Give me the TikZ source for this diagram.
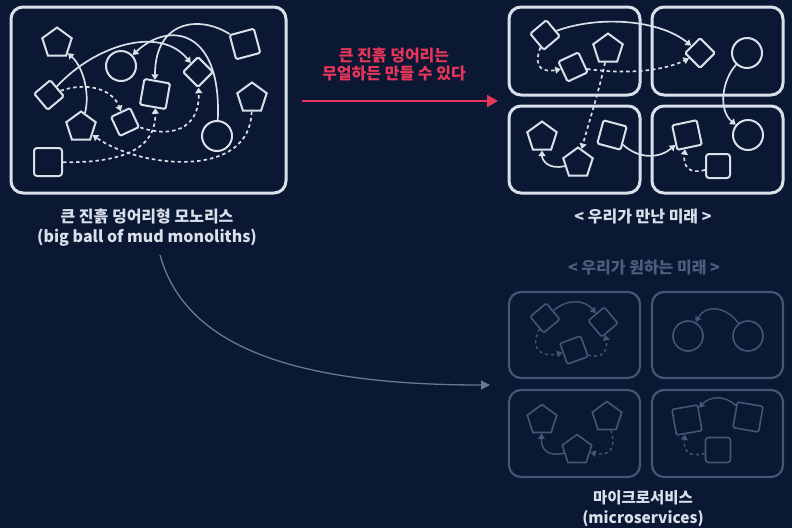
\documentclass[tikz,border=0pt]{standalone}
\usepackage{fontspec}
\setmainfont{Noto Sans CJK KR}
\usetikzlibrary{arrows.meta,shapes.geometric}
\definecolor{bg}{RGB}{11,24,52}
\definecolor{fg}{RGB}{218,224,233}
\definecolor{redc}{RGB}{232,54,90}
\definecolor{dimc}{RGB}{70,86,114}
\definecolor{dimtxt}{RGB}{78,94,122}
\definecolor{grayarr}{RGB}{105,120,148}
\begin{document}
\begin{tikzpicture}[x=1pt,y=-1pt,
  fgline/.style={draw=fg, line width=2pt},
  sq/.style={fgline, rectangle, rounded corners=1.5pt, minimum size=#1, inner sep=0pt},
  sq/.default=22pt,
  pent/.style={fgline, regular polygon, regular polygon sides=5, minimum size=31pt, inner sep=0pt},
  circ/.style={fgline, circle, minimum size=30pt, inner sep=0pt},
  dimmed/.style={draw=dimc, line width=1.6pt},
  bigbox/.style={draw=fg, line width=3pt, rounded corners=12pt},
  dimbox/.style={draw=dimc, line width=2.2pt, rounded corners=12pt},
  con/.style={draw=fg, line width=1.7pt, -{Triangle[length=5.5pt,width=7pt]}},
  dcon/.style={con, dash pattern=on 3.5pt off 3pt},
  dimcon/.style={draw=dimc, line width=1.4pt, -{Triangle[length=5.5pt,width=6.5pt]}},
  ddimcon/.style={dimcon, dash pattern=on 3pt off 3pt},
  lbl/.style={text=fg, font=\fontsize{15.5}{20}\selectfont\bfseries, align=center, inner sep=0pt}
]
\fill[bg] (0,0) rectangle (792,528);
\useasboundingbox (0,0) rectangle (792,528);

% ---------- left: big ball of mud ----------
\draw[bigbox] (11,7) rectangle (286,193);
\node[pent] (L1) at (57,43) {};
\node[circ] (L2) at (121,66) {};
\node[sq=21pt, rotate=40] (L3) at (49,95) {};
\node[sq=25pt, rotate=15] (L4) at (245,44) {};
\node[sq=21pt, rotate=45] (L5) at (198,72) {};
\node[sq=26pt, rotate=-10] (L6) at (155,94) {};
\node[pent] (L7) at (252,98) {};
\node[pent] (L8) at (81,127) {};
\node[sq=21pt, rotate=25] (L9) at (125,122) {};
\node[circ] (L10) at (217,136) {};
\node[sq=28pt, rounded corners=3pt] (L11) at (48,162) {};

\draw[con] (L8) .. controls (90,95) and (84,68) .. (L1);
\draw[con] (L3) .. controls (95,45) and (160,25) .. (L5);
\draw[con] (L4) .. controls (200,15) and (155,20) .. (L6);
\draw[con] (L10) .. controls (222,30) and (170,20) .. (L2);
\draw[dcon] (L3) .. controls (85,82) and (112,88) .. (L9);
\draw[dcon] (L11) .. controls (120,163) and (156,150) .. (L6);
\draw[dcon] (L9) .. controls (170,138) and (200,130) .. (L5);
\draw[dcon] (L7) .. controls (250,180) and (140,168) .. (L8);

\node[lbl, font=\fontsize{16}{20}\selectfont\bfseries] (lblL) at (147,228) {큰 진흙 덩어리형 모노리스\\(big ball of mud monoliths)};

% ---------- red arrow ----------
\node[lbl, text=redc, font=\fontsize{16}{18}\selectfont\bfseries] (redt) at (394,64) {큰 진흙 덩어리는\\무얼하든 만들 수 있다};
\coordinate (ra) at (302,101);
\coordinate (rb) at (498,101);
\draw[draw=redc, line width=2.2pt, -{Triangle[length=11pt,width=12pt]}] (ra) -- (rb);

% ---------- top right: the future we met ----------
\draw[bigbox] (509,7) rectangle (640,95);
\draw[bigbox] (652,7) rectangle (783,95);
\draw[bigbox] (509,106) rectangle (640,193);
\draw[bigbox] (652,106) rectangle (783,193);

\node[sq=21pt, rotate=40] (R1) at (545,35) {};
\node[sq=22pt, rotate=25] (R2) at (573,67) {};
\node[pent] (R3) at (608,49) {};
\node[sq=21pt, rotate=45] (R4) at (700,53) {};
\node[circ] (R5) at (747,53) {};
\node[pent] (R6) at (542,137) {};
\node[pent] (R7) at (578,163) {};
\node[sq=24pt, rotate=-15] (R8) at (612,135) {};
\node[sq=25pt, rotate=12] (R9) at (687,135) {};
\node[circ] (R10) at (748,135) {};
\node[sq=24pt, rounded corners=3pt] (R11) at (718,166) {};

\draw[con] (R1) .. controls (600,15) and (660,20) .. (R4);
\draw[dcon] (R1) .. controls (532,70) and (545,72) .. (R2);
\draw[dcon] (R2) .. controls (630,75) and (665,70) .. (R4);
\draw[dcon] (R3) .. controls (598,95) and (588,125) .. (R7);
\draw[con] (R7) .. controls (548,170) and (542,160) .. (R6);
\draw[con] (R8) .. controls (640,160) and (660,158) .. (R9);
\draw[con] (R5) .. controls (722,80) and (718,110) .. (R10);
\draw[dcon] (R11) .. controls (688,175) and (683,165) .. (R9);

\node[lbl, font=\fontsize{16}{20}\selectfont\bfseries] (lblR) at (643,217) {< 우리가 만난 미래 >};

% ---------- bottom right: the future we want ----------
\node[lbl, text=dimtxt, font=\fontsize{16}{20}\selectfont\bfseries] (lblW) at (644,268) {< 우리가 원하는 미래 >};

\draw[dimbox] (509,292) rectangle (640,378);
\draw[dimbox] (652,292) rectangle (783,378);
\draw[dimbox] (509,390) rectangle (640,477);
\draw[dimbox] (652,390) rectangle (783,477);

\node[sq=21pt, dimmed, rotate=40] (W1) at (545,318) {};
\node[sq=21pt, dimmed, rotate=40] (W2) at (603,322) {};
\node[sq=22pt, dimmed, rotate=20] (W3) at (574,350) {};
\node[circ, dimmed] (W4) at (688,336) {};
\node[circ, dimmed] (W5) at (748,336) {};
\node[pent, dimmed] (W6) at (542,420) {};
\node[pent, dimmed] (W7) at (577,450) {};
\node[pent, dimmed] (W8) at (607,417) {};
\node[sq=26pt, dimmed, rotate=10] (W9) at (687,420) {};
\node[sq=26pt, dimmed, rotate=-10] (W10) at (748,417) {};
\node[sq=25pt, dimmed, rounded corners=3pt] (W11) at (718,450) {};

\draw[dimcon] (W1) .. controls (568,298) and (585,300) .. (W2);
\draw[ddimcon] (W1) .. controls (528,352) and (545,357) .. (W3);
\draw[ddimcon] (W3) .. controls (603,360) and (608,350) .. (W2);
\draw[dimcon] (W5) .. controls (725,305) and (705,305) .. (W4);
\draw[dimcon] (W7) .. controls (548,457) and (541,450) .. (W6);
\draw[ddimcon] (W8) .. controls (617,450) and (608,456) .. (W7);
\draw[dimcon] (W10) .. controls (725,395) and (710,396) .. (W9);
\draw[ddimcon] (W11) .. controls (688,458) and (683,450) .. (W9);

\node[lbl] (lblM) at (643,509) {마이크로서비스\\(microservices)};

% ---------- gray transition arrow ----------
\coordinate (ga) at (160,255);
\coordinate (gb) at (490,385);
\draw[draw=grayarr, line width=1.3pt, -{Triangle[length=9pt,width=9pt]}] (ga) .. controls (185,345) and (290,385) .. (gb);
\end{tikzpicture}
\end{document}
